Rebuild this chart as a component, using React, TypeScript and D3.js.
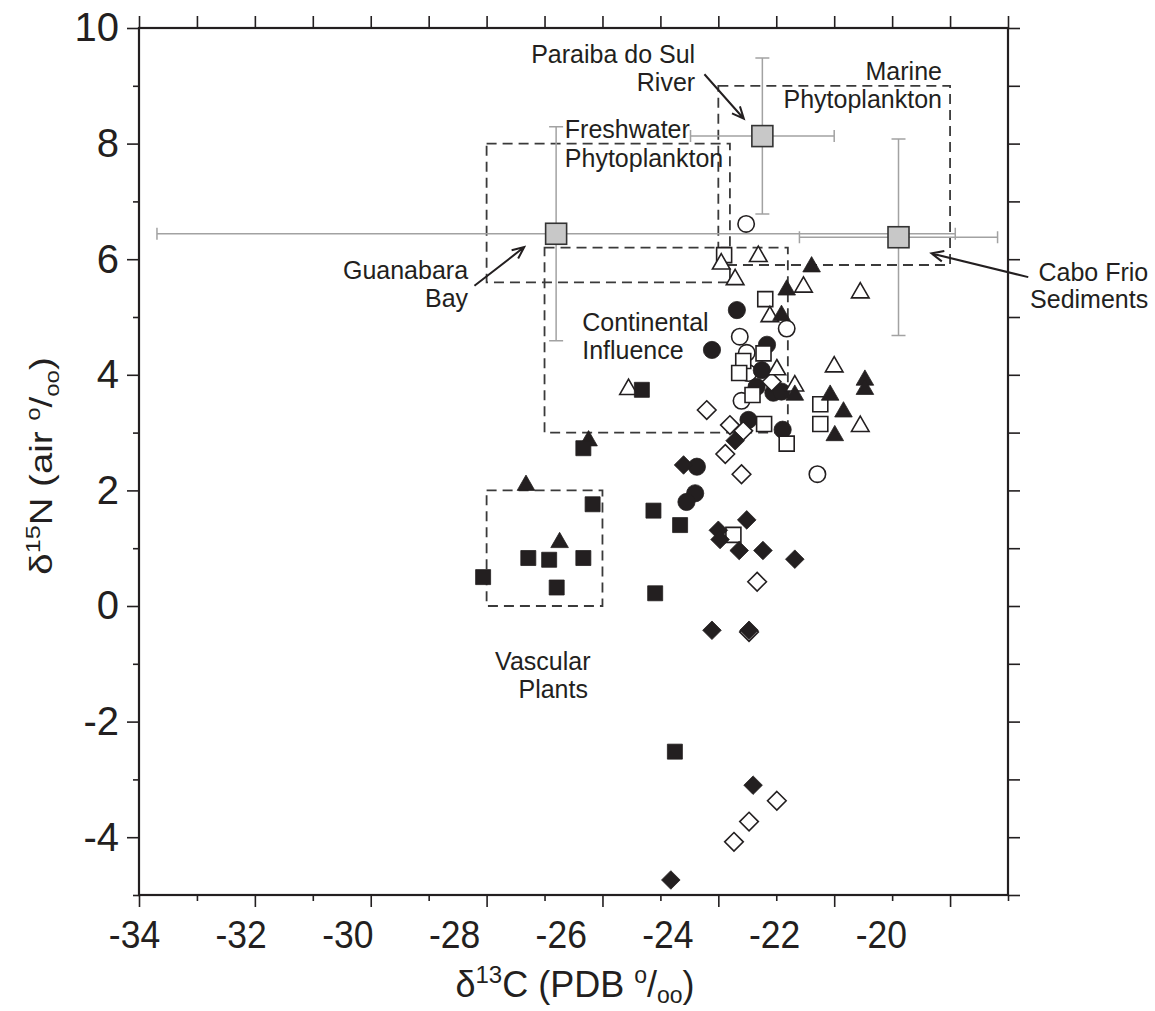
import React, {useEffect, useRef} from 'react';
import * as d3 from "d3";

type Pt = [number, number];

// tick labels
const xTickLabels = [-34, -32, -30, -28, -26, -24, -22, -20];
const yTickLabels = [10, 8, 6, 4, 2, 0, -2, -4];

// samples as [d13C, d15N]
const filledSquares: Pt[] = [
    [-28.06, 0.50], [-27.28, 0.83], [-26.92, 0.80], [-26.33, 0.83], [-26.79, 0.32], [-26.17, 1.76],
    [-26.33, 2.73], [-25.32, 3.74], [-25.12, 1.65], [-24.66, 1.40], [-25.09, 0.22], [-24.75, -2.52]
];
const filledTriangles: Pt[] = [
    [-27.32, 2.13], [-26.74, 1.14], [-26.24, 2.90], [-22.39, 5.91], [-22.82, 5.51], [-22.91, 5.07],
    [-22.68, 3.69], [-22.07, 3.69], [-21.84, 3.40], [-21.99, 2.99], [-21.47, 3.95], [-21.47, 3.79]
];
const filledCircles: Pt[] = [
    [-23.68, 5.12], [-24.11, 4.43], [-23.16, 4.52], [-23.25, 4.08], [-23.34, 3.79], [-23.05, 3.69],
    [-22.91, 3.71], [-23.48, 3.22], [-22.89, 3.05], [-24.37, 2.41], [-24.40, 1.95], [-24.55, 1.80]
];
const filledDiamonds: Pt[] = [
    [-23.71, 2.86], [-24.60, 2.44], [-23.51, 1.49], [-24.00, 1.31], [-23.97, 1.15], [-23.64, 0.96],
    [-23.23, 0.96], [-22.68, 0.81], [-24.11, -0.42], [-23.47, -0.42], [-23.40, -3.10], [-24.82, -4.74]
];
const openSquares: Pt[] = [
    [-23.90, 6.07], [-23.19, 5.31], [-23.57, 4.24], [-23.22, 4.37], [-23.64, 4.03], [-23.41, 3.65],
    [-23.21, 3.15], [-22.82, 2.81], [-22.24, 3.49], [-22.24, 3.15], [-23.74, 1.23]
];
const openTriangles: Pt[] = [
    [-23.95, 5.96], [-23.31, 6.09], [-23.71, 5.69], [-22.53, 5.56], [-21.55, 5.46], [-23.11, 5.05],
    [-22.00, 4.18], [-22.99, 4.13], [-22.68, 3.85], [-21.55, 3.15], [-25.55, 3.79]
];
const openCircles: Pt[] = [
    [-23.52, 6.61], [-23.63, 4.66], [-23.51, 4.38], [-23.48, 4.03], [-23.60, 3.55], [-22.82, 4.80],
    [-22.29, 2.28]
];
const openDiamonds: Pt[] = [
    [-24.20, 3.39], [-23.08, 3.88], [-23.80, 3.13], [-23.57, 3.03], [-23.88, 2.63], [-23.60, 2.28],
    [-23.33, 0.42], [-23.47, -0.45], [-22.99, -3.37], [-23.47, -3.73], [-23.73, -4.08]
];

// end members, mean +/- sd
const endMemberNames = ["Guanabara Bay", "Paraiba do Sul River", "Cabo Frio Sediments"];
const endMemberC = [-26.80, -23.24, -20.89];
const endMemberN = [6.44, 8.13, 6.38];
const endMemberCsd = [6.89, 1.24, 1.71];
const endMemberNsd = [1.85, 1.35, 1.70];

// dashed source boxes
const regionNames = ["Freshwater Phytoplankton", "Marine Phytoplankton", "Continental Influence", "Vascular Plants"];
const regionCmin = [-28.0, -24.0, -27.0, -28.0];
const regionCmax = [-23.8, -20.0, -22.8, -26.0];
const regionNmin = [5.6, 5.9, 3.0, 0.0];
const regionNmax = [8.0, 9.0, 6.2, 2.0];

const ink = "#231f20";
const font = "'Liberation Sans', Arial, Helvetica, sans-serif";

function shapePath(kind: string) {
    if (kind === "square") return "M-7.5,-7.5H7.5V7.5H-7.5Z";
    if (kind === "triangle") return "M0,-7.8L8.8,7.5L-8.8,7.5Z";
    return "M0,-9.3L9.3,0L0,9.3L-9.3,0Z";
}

function arrowPath(x1: number, y1: number, x2: number, y2: number) {
    const ang = Math.atan2(y2 - y1, x2 - x1);
    const L = 13, a = 0.42;
    const w1x = x2 - L * Math.cos(ang - a), w1y = y2 - L * Math.sin(ang - a);
    const w2x = x2 - L * Math.cos(ang + a), w2y = y2 - L * Math.sin(ang + a);
    return `M${x1},${y1}L${x2},${y2}M${w1x},${w1y}L${x2},${y2}L${w2x},${w2y}`;
}

function App() {
    const svgRef = useRef<SVGSVGElement>(null);
    const width = 1155;
    const height = 1011;

    useEffect(() => {
        document.body.style.margin = "0";
        const svg = d3.select(svgRef.current);
        svg.selectAll("*").remove();

        const x = d3.scaleLinear().domain([-34, -19]).range([139, 1008]);
        const y = d3.scaleLinear().domain([-5, 10]).range([895, 28]);
        // printed x labels drift left of their ticks in the original figure
        const xLabelPos = d3.scaleLinear().domain([-34, -20]).range([134.5, 881.3]);

        const allX = d3.range(-34, -18.5, 1);
        const allY = d3.range(-5, 10.5, 1);
        const minorX = allX.filter(v => !xTickLabels.includes(v));
        const minorY = allY.filter(v => !yTickLabels.includes(v));

        const styleAxis = (g: any) => {
            g.select(".domain").remove();
            g.selectAll("line").attr("stroke", ink).attr("stroke-width", 1.6);
        };

        // ticks
        svg.append("g").attr("transform", `translate(0,${y(-5)})`)
            .call(d3.axisBottom(x).tickValues(xTickLabels).tickSize(12).tickFormat(() => ""))
            .call(styleAxis);
        svg.append("g").attr("transform", `translate(0,${y(-5)})`)
            .call(d3.axisBottom(x).tickValues(minorX).tickSize(6).tickFormat(() => ""))
            .call(styleAxis);
        svg.append("g").attr("transform", `translate(0,${y(10)})`)
            .call(d3.axisTop(x).tickValues(allX).tickSize(12).tickFormat(() => ""))
            .call(styleAxis);
        svg.append("g").attr("transform", `translate(${x(-19)},0)`)
            .call(d3.axisRight(y).tickValues(allY).tickSize(12).tickFormat(() => ""))
            .call(styleAxis);
        svg.append("g").attr("transform", `translate(${x(-34)},0)`)
            .call(d3.axisLeft(y).tickValues(minorY).tickSize(6).tickFormat(() => ""))
            .call(styleAxis);
        svg.append("g").attr("transform", `translate(${x(-34)},0)`)
            .call(d3.axisLeft(y).tickValues(yTickLabels).tickSize(12).tickPadding(8).tickFormat((d: any) => String(d)))
            .call(styleAxis)
            .call((g: any) => g.selectAll("text").attr("font-size", 40).attr("font-family", font).attr("fill", ink));

        svg.append("g").selectAll("text").data(xTickLabels).enter().append("text")
            .attr("transform", d => `translate(${xLabelPos(d)},948) scale(0.91,1)`)
            .attr("text-anchor", "middle")
            .attr("font-size", 39).attr("font-family", font).attr("fill", ink)
            .text(d => String(d));

        // dashed boxes
        svg.append("g").selectAll("rect").data(regionNames).enter().append("rect")
            .attr("x", (d, i) => x(regionCmin[i]))
            .attr("y", (d, i) => y(regionNmax[i]))
            .attr("width", (d, i) => x(regionCmax[i]) - x(regionCmin[i]))
            .attr("height", (d, i) => y(regionNmin[i]) - y(regionNmax[i]))
            .attr("fill", "none").attr("stroke", "#3a3a3a").attr("stroke-width", 1.8)
            .attr("stroke-dasharray", "10 6");

        // end member error bars
        const eb = svg.append("g").attr("stroke", "#a2a2a2").attr("stroke-width", 1.5).attr("fill", "none");
        endMemberNames.forEach((name, i) => {
            const cx = x(endMemberC[i]), cy = y(endMemberN[i]);
            const xl = x(endMemberC[i] - endMemberCsd[i]), xr = x(endMemberC[i] + endMemberCsd[i]);
            const yt = y(endMemberN[i] + endMemberNsd[i]), yb = y(endMemberN[i] - endMemberNsd[i]);
            eb.append("path").attr("d",
                `M${xl},${cy}H${xr}M${xl},${cy - 6}V${cy + 6}M${xr},${cy - 6}V${cy + 6}` +
                `M${cx},${yt}V${yb}M${cx - 7},${yt}H${cx + 7}M${cx - 7},${yb}H${cx + 7}`);
        });

        // samples
        const series = [
            {data: openCircles, kind: "circle", filled: false},
            {data: filledCircles, kind: "circle", filled: true},
            {data: openSquares, kind: "square", filled: false},
            {data: openDiamonds, kind: "diamond", filled: false},
            {data: filledDiamonds, kind: "diamond", filled: true},
            {data: openTriangles, kind: "triangle", filled: false},
            {data: filledTriangles, kind: "triangle", filled: true},
            {data: filledSquares, kind: "square", filled: true},
        ];
        series.forEach(s => {
            const g = svg.append("g")
                .attr("fill", s.filled ? ink : "#ffffff")
                .attr("stroke", ink)
                .attr("stroke-width", s.filled ? 0.8 : 1.6);
            if (s.kind === "circle") {
                g.selectAll("circle").data(s.data).enter().append("circle")
                    .attr("cx", d => x(d[0])).attr("cy", d => y(d[1]))
                    .attr("r", s.filled ? 8.6 : 8.2);
            } else {
                g.selectAll("path").data(s.data).enter().append("path")
                    .attr("transform", d => `translate(${x(d[0])},${y(d[1])})`)
                    .attr("d", shapePath(s.kind));
            }
        });

        // end member squares
        svg.append("g").selectAll("rect").data(endMemberNames).enter().append("rect")
            .attr("x", (d, i) => x(endMemberC[i]) - 10.5)
            .attr("y", (d, i) => y(endMemberN[i]) - 10.5)
            .attr("width", 21).attr("height", 21)
            .attr("fill", "#c8c8c8").attr("stroke", "#333").attr("stroke-width", 1.6);

        // arrows
        const arrows = [
            [-24.24, 9.20, -23.56, 8.43],
            [-28.21, 5.54, -27.35, 6.21],
            [-18.65, 5.69, -20.32, 6.10],
        ];
        svg.append("g").selectAll("path").data(arrows).enter().append("path")
            .attr("d", d => arrowPath(x(d[0]), y(d[1]), x(d[2]), y(d[3])))
            .attr("fill", "none").attr("stroke", ink).attr("stroke-width", 2);

        // annotations
        const notes: [string, number, number, string][] = [
            ["Paraiba do Sul", -24.40, 9.40, "end"],
            ["River", -24.40, 8.915, "end"],
            ["Marine", -20.14, 9.10, "end"],
            ["Phytoplankton", -20.14, 8.616, "end"],
            ["Freshwater", -26.65, 8.09, "start"],
            ["Phytoplankton", -26.65, 7.60, "start"],
            ["Guanabara", -28.32, 5.66, "end"],
            ["Bay", -28.32, 5.17, "end"],
            ["Cabo Frio", -16.58, 5.62, "end"],
            ["Sediments", -16.58, 5.156, "end"],
            ["Continental", -26.35, 4.76, "start"],
            ["Influence", -26.35, 4.27, "start"],
            ["Vascular", -27.03, -1.11, "middle"],
            ["Plants", -26.85, -1.59, "middle"],
        ];
        svg.append("g").selectAll("text").data(notes).enter().append("text")
            .attr("x", d => x(d[1])).attr("y", d => y(d[2]))
            .attr("text-anchor", d => d[3])
            .attr("font-size", 25).attr("font-family", font).attr("fill", ink)
            .text(d => d[0]);

        // frame
        svg.append("rect")
            .attr("x", x(-34)).attr("y", y(10))
            .attr("width", x(-19) - x(-34)).attr("height", y(-5) - y(10))
            .attr("fill", "none").attr("stroke", ink).attr("stroke-width", 2.2);

        // axis titles
        const xt = svg.append("text")
            .attr("x", 575).attr("y", 997)
            .attr("text-anchor", "middle")
            .attr("font-size", 36).attr("font-family", font).attr("fill", ink);
        xt.append("tspan").text("\u03b4");
        xt.append("tspan").attr("font-size", 24).attr("dy", -14).text("13");
        xt.append("tspan").attr("dy", 14).text("C (PDB ");
        xt.append("tspan").attr("font-size", 23).attr("dy", -14).text("o");
        xt.append("tspan").attr("dy", 14).text("/");
        xt.append("tspan").attr("font-size", 23).attr("dy", 6).text("oo");
        xt.append("tspan").attr("dy", -6).text(")");

        const yt = svg.append("text")
            .attr("transform", "translate(52,466) rotate(-90) scale(1.2,1)")
            .attr("text-anchor", "middle")
            .attr("font-size", 32).attr("font-family", font).attr("fill", ink);
        yt.append("tspan").text("\u03b4");
        yt.append("tspan").attr("font-size", 21).attr("dy", -12).text("15");
        yt.append("tspan").attr("dy", 12).text("N (air ");
        yt.append("tspan").attr("font-size", 20).attr("dy", -12).text("o");
        yt.append("tspan").attr("dy", 12).text("/");
        yt.append("tspan").attr("font-size", 20).attr("dy", 7).text("oo");
        yt.append("tspan").attr("dy", -7).text(")");
    }, []);

    return (
        <svg ref={svgRef} width={width} height={height} style={{display: "block"}}>
        </svg>
    );
}

export default App;
